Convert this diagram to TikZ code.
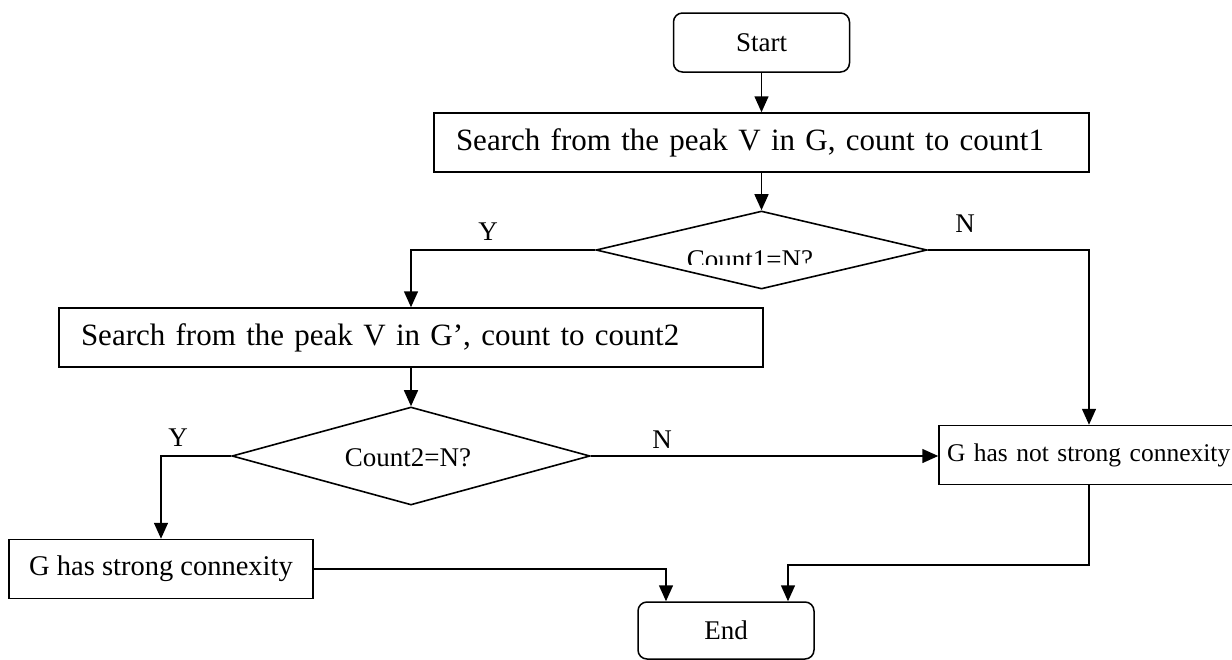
\documentclass[tikz,border=0pt]{standalone}
\usepackage{fontspec}
\setmainfont{Liberation Serif}
\usetikzlibrary{arrows.meta,shapes.geometric}
\begin{document}
\begin{tikzpicture}[x=1pt,y=-1pt,
  every node/.style={font=\fontsize{27}{32}\selectfont},
  big/.style={font=\fontsize{31}{36}\selectfont},
  arr/.style={line width=1.5pt,-{Triangle[length=16pt,width=14pt]}},
  term/.style={draw,line width=1.5pt,rounded corners=9pt,minimum width=176pt,minimum height=59pt,inner sep=0pt},
  proc/.style={draw,line width=1.5pt,minimum height=59pt,inner ysep=0pt},
  dec/.style={draw,diamond,line width=1.6pt,inner sep=0pt},
  lab/.style={inner sep=0pt}]
\useasboundingbox (0,0) rectangle (1232,659);
\node[term] (start) at (761.5,42.5) {Start};
\node[proc,big,text width=611pt,inner xsep=22pt,align=left] (b1) at (761.5,142.5) {Search from the peak V in G, count to count1};
\node[dec,minimum width=331pt,minimum height=78pt] (d1) at (761.5,250) {};
\begin{scope}
\clip (640,230) rectangle (860,264);
\node[lab,anchor=base] (t1) at (750,268) {Count1=N?};
\end{scope}
\node[proc,big,text width=660pt,inner xsep=22pt,align=left] (b2) at (411,337.5) {Search from the peak V in G’, count to count2};
\node[dec,minimum width=358pt,minimum height=98pt] (d2) at (411,456) {};
\node[lab] (t2) at (408,458) {Count2=N?};
\node[proc,minimum width=304pt,inner xsep=0pt,font=\fontsize{28.5}{33}\selectfont] (b3) at (161,569) {G has strong connexity};
\node[proc,minimum width=300pt,inner xsep=8pt,align=left,text width=300pt,font=\fontsize{25.5}{30}\selectfont] (b4) at (1097,455) {G has not strong connexity};
\node[term,minimum height=57pt] (end) at (726,630.5) {End};
\node[lab] (ly1) at (488,232) {Y};
\node[lab] (ln1) at (965,224) {N};
\node[lab] (ly2) at (178,438) {Y};
\node[lab] (ln2) at (662,440) {N};
\coordinate (c4) at (788,565);
\coordinate (c3) at (666,569);
\coordinate (c1) at (1089,250);
\draw[arr] (start) -- (b1);
\draw[arr] (b1) -- (d1);
\draw[arr] (d1.west) -| (b2.north);
\draw[arr] (b2) -- (d2);
\draw[arr] (d2.west) -| (b3.north);
\draw[arr] (d2.east) -- (d2.east -| b4.west);
\draw[arr] (d1.east) -- (c1) -- (c1 |- b4.north);
\draw[arr] (b4.south -| c1) |- (c4) -- (c4 |- end.north);
\draw[arr] (b3.east) -- (c3) -- (c3 |- end.north);
\end{tikzpicture}
\end{document}
